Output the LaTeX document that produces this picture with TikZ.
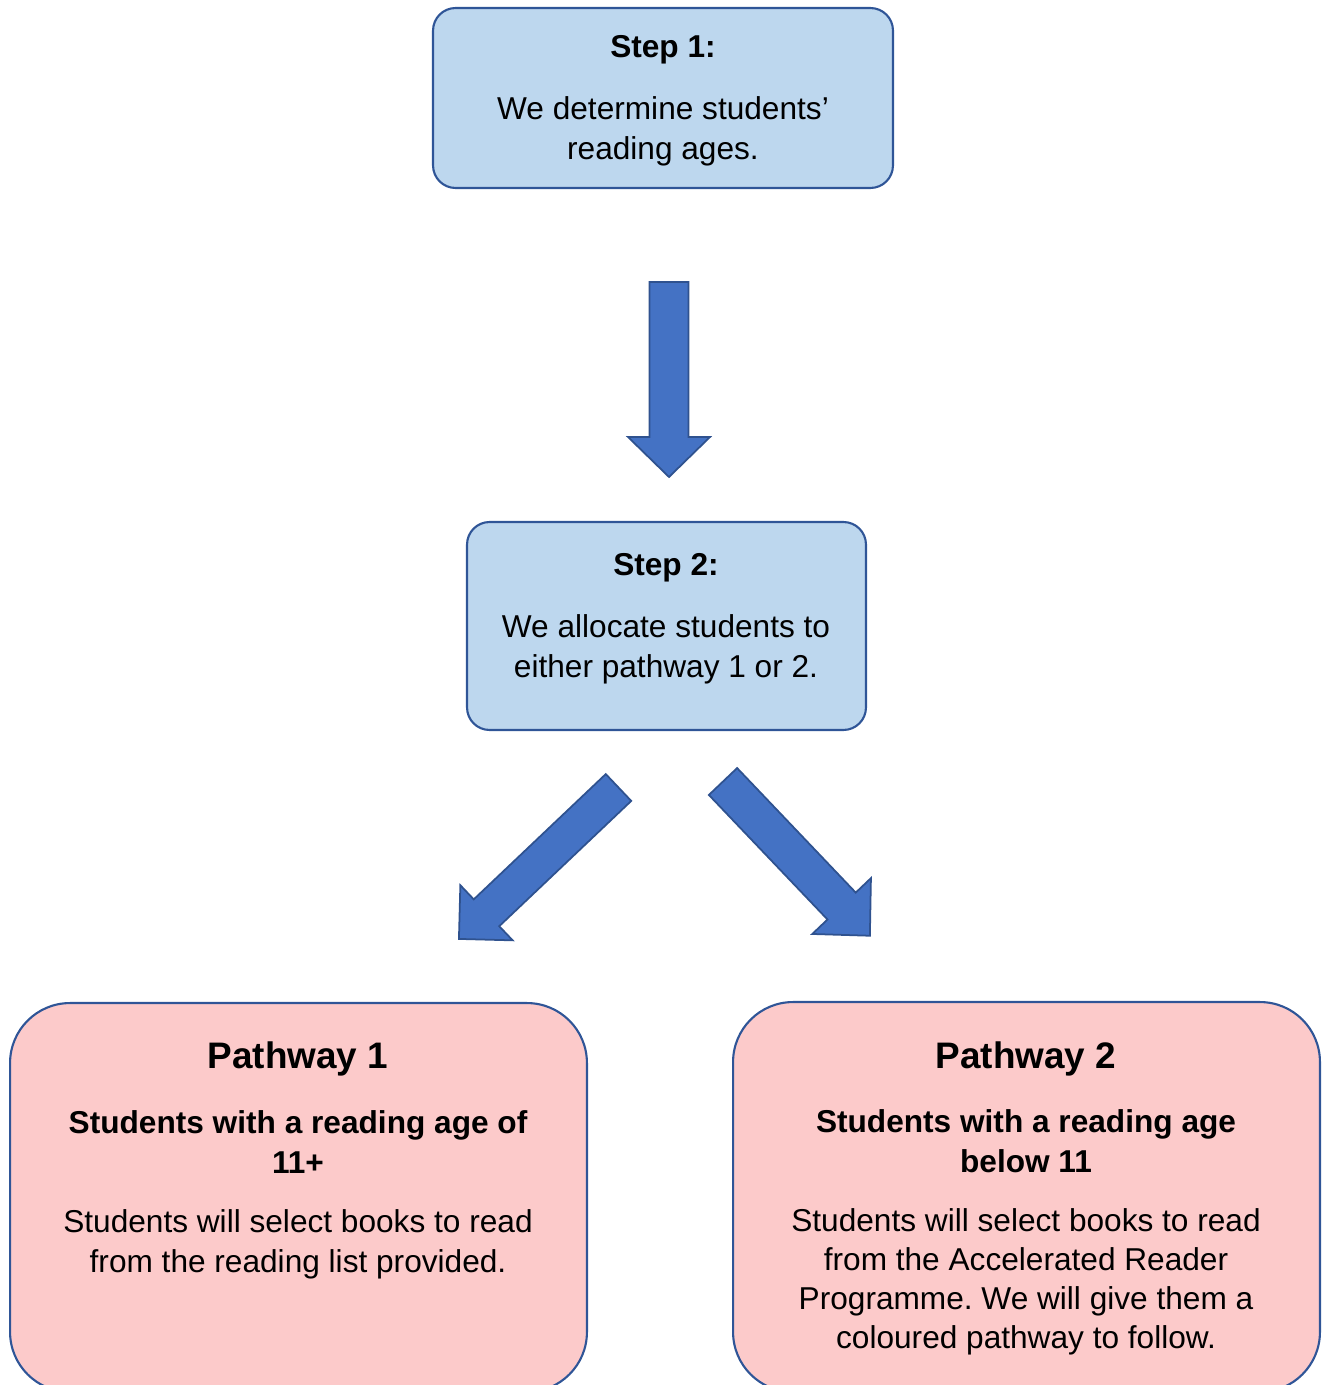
\documentclass[tikz,border=0pt]{standalone}
\usepackage{fontspec}
\setmainfont{Liberation Sans}
\usetikzlibrary{positioning, calc}
\frenchspacing

\definecolor{stepblue}{HTML}{BDD7EE}
\definecolor{pathpink}{HTML}{FCCACA}
\definecolor{edgeblue}{HTML}{2F5597}
\definecolor{arrowblue}{HTML}{4472C4}
\definecolor{arrowedge}{HTML}{2F528F}

\tikzset{
  stepbox/.style={draw=edgeblue, line width=1.2pt, fill=stepblue, rounded corners=0.45cm},
  pathbox/.style={draw=edgeblue, line width=1.2pt, fill=pathpink, rounded corners=1.2cm},
  blockarrow/.style={draw=arrowedge, line width=1pt, fill=arrowblue, line join=miter},
  bodytext/.style={align=center, inner sep=0pt, font=\fontsize{18}{22.7}\selectfont},
  boldtext/.style={bodytext, font=\fontsize{18}{22.7}\selectfont\bfseries},
  headtext/.style={align=center, inner sep=0pt, font=\fontsize{21}{25}\selectfont\bfseries},
}

\begin{document}
\begin{tikzpicture}[x=0.02cm, y=-0.02cm]
        \useasboundingbox (0,0) rectangle (1323,1385);

        % the boxes
        \node[stepbox, minimum width=9.2cm, minimum height=3.6cm] (step1) at (663,98) {};
        \node[stepbox, minimum width=7.98cm, minimum height=4.16cm] (step2) at (666.5,626) {};
        \node[pathbox, minimum width=11.54cm, minimum height=7.78cm] (path1) at (298.5,1197.5) {};
        \node[pathbox, minimum width=11.74cm, minimum height=7.8cm] (path2) at (1026.5,1197) {};

        % step 1
        \node[boldtext] (step1title) at (663,50) {Step 1:};
        \node[bodytext] (step1text) at (663,131) {We determine students’\\reading ages.};

        % step 2
        \node[boldtext] (step2title) at (666,568) {Step 2:};
        \node[bodytext] (step2text) at (666,649) {We allocate students to\\either pathway 1 or 2.};

        % pathway 1
        \node[headtext] (path1title) at (298,1059) {Pathway 1};
        \node[boldtext] (path1who) at (298,1142) {Students with a reading age of\\11+};
        \node[bodytext] (path1text) at (298,1244) {Students will select books to read\\from the reading list provided.};

        % pathway 2
        \node[headtext] (path2title) at (1026,1059) {Pathway 2};
        \node[boldtext] (path2who) at (1026,1141) {Students with a reading age\\below 11};
        \node[bodytext, font=\fontsize{18}{22.3}\selectfont] (path2text) at (1026,1282)
            {Students will select books to read\\from the Accelerated Reader\\Programme. We will give them a\\coloured pathway to follow.};

        % down arrow
        \begin{scope}[shift={(669,282)}, rotate=-90]
            \draw[blockarrow] (0,-19.5) -- (155,-19.5) -- (155,-41) -- (195,0) -- (155,41) -- (155,19.5) -- (0,19.5) -- cycle;
        \end{scope}

        % arrow to pathway 1
        \begin{scope}[shift={(618.5,787.5)}, rotate=223.5]
            \draw[blockarrow] (0,-18.5) -- (182,-18.5) -- (182,-38) -- (220,0) -- (182,38) -- (182,18.5) -- (0,18.5) -- cycle;
        \end{scope}

        % arrow to pathway 2
        \begin{scope}[shift={(723,781.5)}, rotate=-46.4]
            \draw[blockarrow] (0,-19.5) -- (172,-19.5) -- (172,-40.5) -- (213,0) -- (172,40.5) -- (172,19.5) -- (0,19.5) -- cycle;
        \end{scope}
    \end{tikzpicture}
\end{document}
